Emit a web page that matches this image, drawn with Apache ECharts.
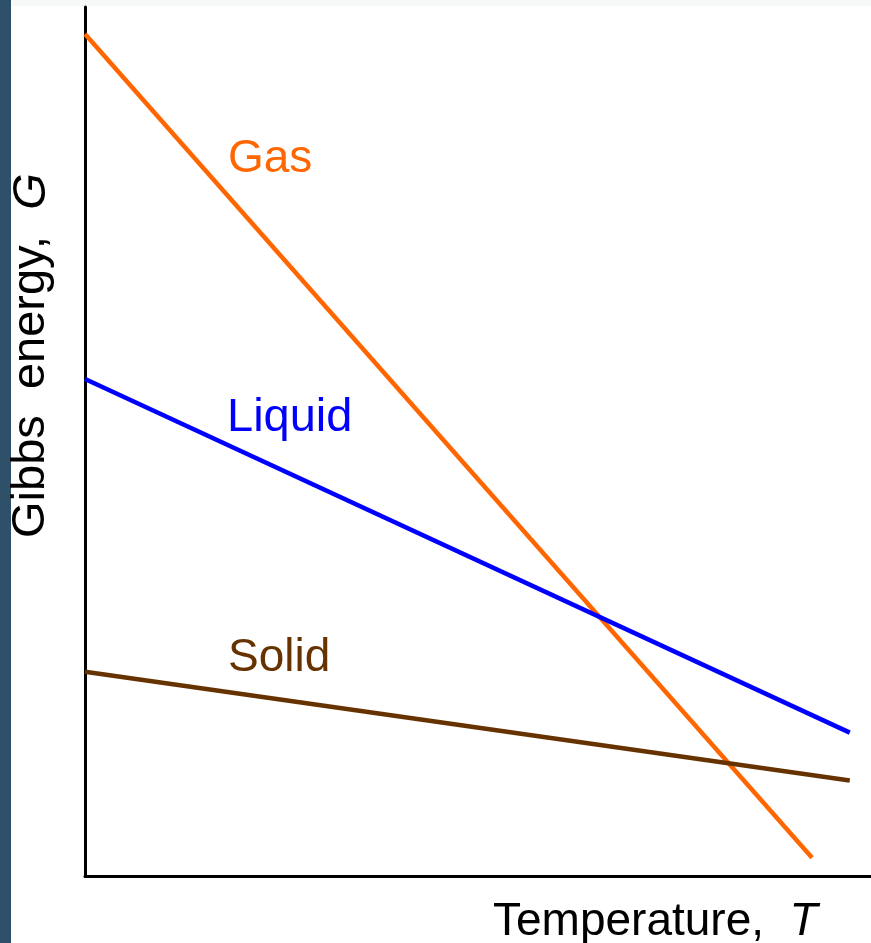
<!DOCTYPE html>
<html>
<head>
<meta charset="utf-8">
<style>
  html, body { margin: 0; padding: 0; background: #fff; }
  #main { width: 871px; height: 943px; }
</style>
<script src="https://cdn.jsdelivr.net/npm/echarts@6/dist/echarts.min.js"></script>
</head>
<body>
<div id="main"></div>
<script>
// straight lines: [T, G] at both ends (axes run 0..100)
const gasLine = [[0, 96.9], [92.5, 2.1]];
const liquidLine = [[0, 57.2], [97.3, 16.5]];
const solidLine = [[0, 23.5], [97.3, 11.0]];
const phaseNames = ['Gas', 'Liquid', 'Solid'];
const phaseColors = ['#ff6600', '#0000ff', '#663300'];

let myChart = echarts.init(document.getElementById('main'), null, { renderer: 'canvas' });
const font = 'Liberation Sans, Arial, sans-serif';

let lineSeries = (name, data, color) => ({
    name: name,
    type: 'line',
    data: data,
    symbol: 'none',
    silent: true,
    lineStyle: { color: color, width: 4.5 }
});

myChart.setOption({
    animation: false,
    backgroundColor: '#fff',
    grid: { left: 85, right: 0, top: 7, bottom: 67 },
    xAxis: {
        type: 'value', min: 0, max: 100,
        axisLine: { show: true, lineStyle: { color: '#000', width: 3 } },
        axisTick: { show: false }, axisLabel: { show: false }, splitLine: { show: false }
    },
    yAxis: {
        type: 'value', min: 0, max: 100,
        axisLine: { show: true, lineStyle: { color: '#000', width: 3 } },
        axisTick: { show: false }, axisLabel: { show: false }, splitLine: { show: false }
    },
    series: [
        lineSeries(phaseNames[0], gasLine, phaseColors[0]),
        lineSeries(phaseNames[1], liquidLine, phaseColors[1]),
        lineSeries(phaseNames[2], solidLine, phaseColors[2])
    ],
    graphic: [
        // page frame: dark strip on the left, pale strip on top
        { type: 'rect', left: 0, top: 0, shape: { width: 11, height: 943 }, style: { fill: '#2e5068' }, silent: true },
        { type: 'rect', left: 11, top: 0, shape: { width: 860, height: 6 }, style: { fill: '#f7f9f9' }, silent: true },
        // phase labels
        { type: 'text', left: 228, top: 136, style: { text: phaseNames[0], fill: phaseColors[0], font: '46px ' + font } },
        { type: 'text', left: 227, top: 395, style: { text: phaseNames[1], fill: phaseColors[1], font: '47px ' + font } },
        { type: 'text', left: 228, top: 635, style: { text: phaseNames[2], fill: phaseColors[2], font: '46px ' + font } },
        // axis titles
        {
            type: 'text', left: 493, top: 899,
            style: {
                text: '{n|Temperature,  }{i|T}',
                rich: {
                    n: { font: '46px ' + font, fill: '#000' },
                    i: { font: 'italic 46px ' + font, fill: '#000' }
                }
            }
        },
        {
            type: 'text', x: 8, y: 538, rotation: Math.PI / 2,
            style: {
                text: '{n|Gibbs  energy,  }{i|G}',
                rich: {
                    n: { font: '47px ' + font, fill: '#000' },
                    i: { font: 'italic 47px ' + font, fill: '#000' }
                }
            }
        }
    ]
});
</script>
</body>
</html>
